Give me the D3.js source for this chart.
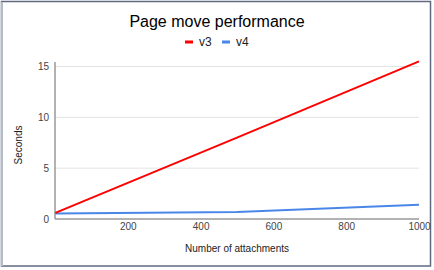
<!DOCTYPE html>
<html lang="en">
<head>
<meta charset="UTF-8">
<title>Page move performance</title>
<script src="https://cdn.jsdelivr.net/npm/d3@7"></script>
<style>
body { margin: 0; background: #fff; font-family: "Liberation Sans", Arial, sans-serif; }
svg { display: block; }
.grid line { stroke: #e3e3e3; stroke-width: 1px; }
.tick text { fill: #444; font-size: 10px; }
</style>
</head>
<body>
<svg width="434" height="270"></svg>
<script>
var attachments = [1, 500, 1000];
var v3 = [0.6, 8.0, 15.5];
var v4 = [0.55, 0.7, 1.4];
var xTicks = [200, 400, 600, 800, 1000];
var yTicks = [0, 5, 10, 15];
var series = [
	{ name: "v3", values: v3, color: "#ff0000" },
	{ name: "v4", values: v4, color: "#4a86e8" }
];

var svg = d3.select("svg"),
	margin = { top: 62, right: 15, bottom: 51, left: 55 },
	width = +svg.attr("width") - margin.left - margin.right,
	height = +svg.attr("height") - margin.top - margin.bottom;

// frame
svg.append("rect")
	.attr("x", 1.5).attr("y", 1.5)
	.attr("width", 429).attr("height", 264.5)
	.attr("fill", "#fff")
	.attr("stroke", "#5f6a80")
	.attr("stroke-width", 1.5);
svg.append("line")
	.attr("x1", 2).attr("x2", 2).attr("y1", 2).attr("y2", 266)
	.attr("stroke", "#b3bccb").attr("stroke-width", 2);

var x = d3.scaleLinear().domain([0, 1000]).range([0, 364]);
// domain top so that 15 sits near y=67
var y = d3.scaleLinear().domain([0, height / 10.17]).range([height, 0]);

var g = svg.append("g").attr("transform", "translate(" + margin.left + "," + margin.top + ")");

g.append("g")
	.attr("class", "grid")
	.selectAll("line")
	.data(yTicks.filter(function(d) { return d > 0; }))
	.enter().append("line")
	.attr("x1", 0).attr("x2", x(1000))
	.attr("y1", function(d) { return y(d); })
	.attr("y2", function(d) { return y(d); });

var yAxis = g.append("g")
	.call(d3.axisLeft(y).tickValues(yTicks).tickSize(0).tickPadding(6));
yAxis.select(".domain").remove();

var xAxis = g.append("g")
	.attr("transform", "translate(0," + height + ")")
	.call(d3.axisBottom(x).tickValues(xTicks).tickFormat(d3.format("d")).tickSize(0).tickPadding(4));
xAxis.select(".domain").remove();

g.append("line")
	.attr("x1", 0).attr("x2", x(1000))
	.attr("y1", height).attr("y2", height)
	.attr("stroke", "#999").attr("stroke-width", 1.5);
g.append("line")
	.attr("x1", 0).attr("x2", 0)
	.attr("y1", 0).attr("y2", height)
	.attr("stroke", "#999").attr("stroke-width", 1.5);

var line = d3.line()
	.x(function(d, i) { return x(attachments[i]); })
	.y(function(d) { return y(d); });

g.selectAll(".series")
	.data(series.slice().reverse())
	.enter().append("path")
	.attr("fill", "none")
	.attr("stroke", function(d) { return d.color; })
	.attr("stroke-width", 2)
	.attr("d", function(d) { return line(d.values); });

// title
svg.append("text")
	.attr("x", 217).attr("y", 27)
	.attr("text-anchor", "middle")
	.style("font-size", "16px")
	.attr("fill", "#000")
	.text("Page move performance");

// legend
var legendX = [185, 222];
var leg = svg.selectAll(".legend")
	.data(series)
	.enter().append("g")
	.attr("transform", function(d, i) { return "translate(" + legendX[i] + ",42)"; });
leg.append("rect")
	.attr("x", 0).attr("y", -1.5)
	.attr("width", 8).attr("height", 3)
	.attr("fill", function(d) { return d.color; });
leg.append("text")
	.attr("x", 14).attr("y", 4)
	.style("font-size", "12px")
	.attr("fill", "#222")
	.text(function(d) { return d.name; });

// axis titles
svg.append("text")
	.attr("transform", "translate(22,145) rotate(-90)")
	.attr("text-anchor", "middle")
	.style("font-size", "10px")
	.attr("fill", "#222")
	.text("Seconds");
svg.append("text")
	.attr("x", 237).attr("y", 252)
	.attr("text-anchor", "middle")
	.style("font-size", "10px")
	.attr("fill", "#222")
	.text("Number of attachments");
</script>
</body>
</html>
